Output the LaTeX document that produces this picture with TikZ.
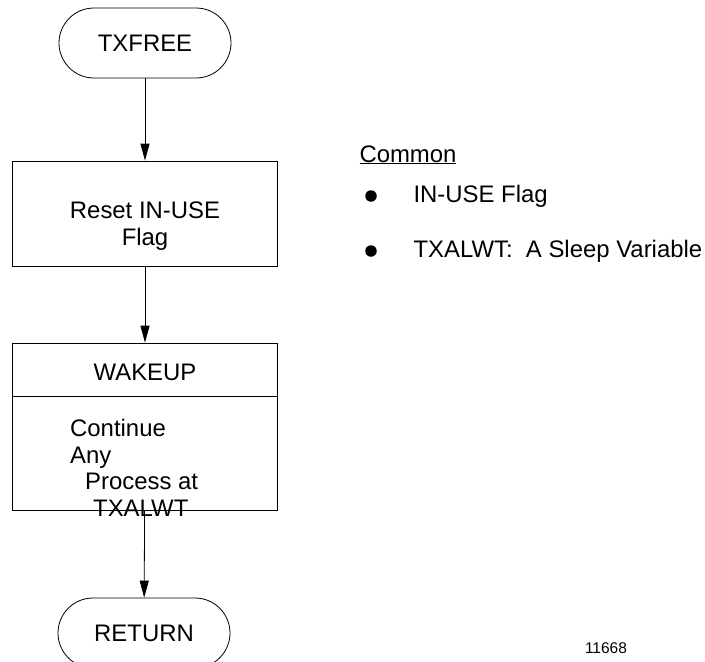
\documentclass[tikz,border=0pt]{standalone}
\usepackage{fontspec}
\setmainfont{Liberation Sans}
\usetikzlibrary{arrows.meta}

\begin{document}
\begin{tikzpicture}[x=1pt,y=-1pt,
    every node/.style={font=\fontsize{23.9}{26.5}\selectfont},
    term/.style={draw,line width=0.8pt,rounded corners=35pt,minimum width=172pt,minimum height=70pt},
    procbox/.style={draw,line width=0.8pt,minimum width=265pt},
    dot/.style={circle,fill,inner sep=0pt,minimum size=11.5pt},
    flow/.style={line width=0.8pt,-{Triangle[width=9pt,length=17pt]}}]
    \useasboundingbox (0,0) rectangle (705,662);
    \node[term] (txfree) at (145,43) {TXFREE};
    \node[procbox,minimum height=105pt] (reset) at (145,213.5) {};
    \node[align=center] (resettext) at (145,226) {Reset IN-USE\\Flag};
    \node[procbox,minimum height=167pt] (wakebox) at (145,426.5) {};
    \draw[line width=0.8pt] ([yshift=-54pt]wakebox.north west) -- ([yshift=-54pt]wakebox.north east);
    \node (wakeup) at (145,372) {WAKEUP};
    \node[anchor=north west,align=left,inner sep=0pt] (cont) at (70,419) {Continue\\Any\\\hspace*{15pt}Process at\\\hspace*{23pt}TXALWT};
    \node[term] (return) at (144,633) {RETURN};
    \draw[flow] (txfree) -- (reset);
    \draw[flow] (reset) -- (wakebox);
    \draw[flow] (wakebox) -- (return);
    \node[anchor=base west] (common) at (356,162) {\underline{Common}};
    \node[dot] (bul1) at (371,196) {};
    \node[anchor=west] (item1) at (410,196) {IN-USE Flag};
    \node[dot] (bul2) at (371,251) {};
    \node[anchor=west] (item2) at (410,251) {TXALWT:\ \ A Sleep Variable};
    \node[font=\fontsize{15.5}{18}\selectfont] (fignum) at (606,648) {11668};
\end{tikzpicture}
\end{document}
